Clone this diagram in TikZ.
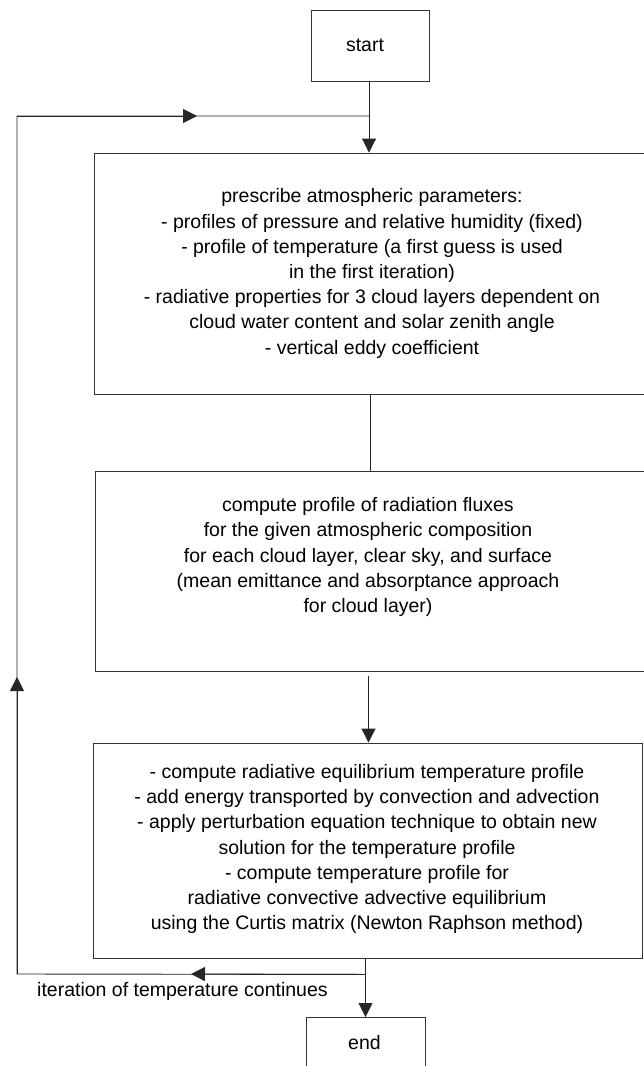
\documentclass[tikz,border=0pt]{standalone}
\usepackage{fontspec}
\setmainfont{Liberation Sans}
\usetikzlibrary{arrows.meta,calc}
\begin{document}
\begin{tikzpicture}[x=1pt,y=-1pt,
  every node/.style={font=\fontsize{19.5}{25.2}\selectfont},
  boxstyle/.style={draw=black!80,line width=0.9pt,rectangle,inner sep=0pt},
  txt/.style={align=center,inner sep=0pt},
  ln/.style={draw=black!85,line width=0.9pt},
  arr/.style={ln,-{Triangle[width=14pt,length=14pt]}}]
\useasboundingbox (0,0) rectangle (644,1066);
\clip (0,0) rectangle (644,1066);
\fill[white] (0,0) rectangle (644,1066);
% boxes
\node[boxstyle,minimum width=118pt,minimum height=71pt] (start) at (370,45.5) {};
\node[txt] (tstart) at (365,45.5) {start};
\node[boxstyle,minimum width=556pt,minimum height=241pt] (b1) at (372,273.5) {};
\node[txt] (t1) at (372,273.5) {prescribe atmospheric parameters:\\
- profiles of pressure and relative humidity (fixed)\\
- profile of temperature (a first guess is used\\
in the first iteration)\\
- radiative properties for 3 cloud layers dependent on\\
cloud water content and solar zenith angle\\
- vertical eddy coefficient};
\node[boxstyle,minimum width=553pt,minimum height=200pt] (b2) at (371.5,571) {};
\node[txt] (t2) at (368,557) {compute profile of radiation fluxes\\
for the given atmospheric composition\\
for each cloud layer, clear sky, and surface\\
(mean emittance and absorptance approach\\
for cloud layer)};
\node[boxstyle,minimum width=549pt,minimum height=215pt] (b3) at (367.5,850.5) {};
\node[txt] (t3) at (367,849) {- compute radiative equilibrium temperature profile\\
- add energy transported by convection and advection\\
- apply perturbation equation technique to obtain new\\
solution for the temperature profile\\
- compute temperature profile for\\
radiative convective advective equilibrium\\
using the Curtis matrix (Newton Raphson method)};
\node[boxstyle,minimum width=119pt,minimum height=80pt,anchor=north] (end) at (365.5,1017) {};
\node[txt] (tend) at (364.5,1043) {end};
\node[txt,anchor=west] (lab) at (37,991) {iteration of temperature continues};
% connectors
\coordinate (sx) at ($(start.south)+(-1,0)$);
\draw[arr] (sx) -- (sx |- b1.north);
\coordinate (b1out) at ($(b1.south)+(-2,0)$);
\draw[ln] (b1out) -- (b1out |- b2.north);
\coordinate (b2out) at ($(b2.south)+(-3,5)$);
\draw[arr] (b2out) -- (b2out |- b3.north);
\coordinate (b3out) at ($(b3.south)+(-2,0)$);
\draw[arr] (b3out) -- (b3out |- end.north);
% feedback loop
\coordinate (fb) at ($(b3out)+(0,16)$);
\coordinate (ll) at (17,974);
\coordinate (ul) at (17,116);
\coordinate (jt) at (sx |- ul);
\draw[ln] (fb) -- (ll) -- (ul) -- (jt);
\coordinate (tipL) at (191,974);
\coordinate (tipU) at (17,677);
\coordinate (tipR) at (197,116);
\draw[arr] (fb) -- (tipL);
\draw[arr] (ll) -- (tipU);
\draw[arr] (ul) -- (tipR);
\end{tikzpicture}
\end{document}
